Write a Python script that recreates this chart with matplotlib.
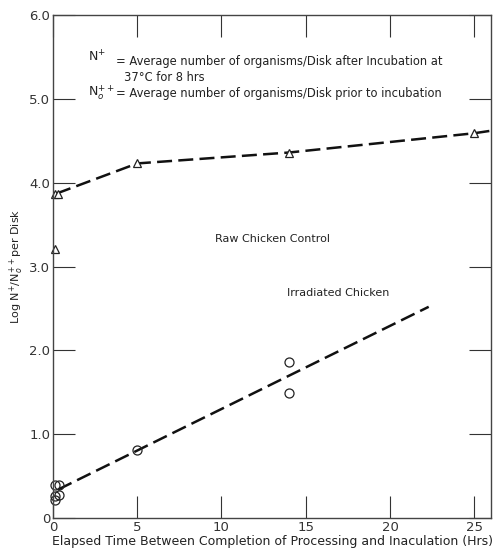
import matplotlib
matplotlib.use("Agg")
import matplotlib.pyplot as plt

# Raw chicken control (triangles)
raw_x = [0.1, 0.3, 0.1, 5, 14, 25]
raw_y = [3.87, 3.87, 3.21, 4.23, 4.36, 4.59]
raw_line_x = [0.2, 5, 14, 25, 26]
raw_line_y = [3.87, 4.23, 4.36, 4.59, 4.62]

# Irradiated chicken (circles)
irr_x = [0.1, 0.35, 0.1, 0.35, 0.1, 5, 14, 14]
irr_y = [0.40, 0.40, 0.26, 0.27, 0.21, 0.81, 1.86, 1.49]
irr_line_x = [0.3, 22.3]
irr_line_y = [0.34, 2.52]

xticks = [0, 5, 10, 15, 20, 25]
xticklabels = ["0", "5", "10", "15", "20", "25"]
yticks = [0, 1, 2, 3, 4, 5, 6]
yticklabels = ["0", "1.0", "2.0", "3.0", "4.0", "5.0", "6.0"]

plt.rcParams['font.family'] = ['DejaVu Sans']
fig = plt.figure(figsize=(4.97, 5.5), dpi=100)
ax = fig.add_axes([0.1066, 0.058, 0.8814, 0.9147])

ax.plot(raw_line_x, raw_line_y, ls=(0, (6, 2.5)), color='#111111', lw=1.8)
ax.plot(raw_x, raw_y, ls='none', marker='^', mfc='white', mec='#222222', ms=6, mew=0.9, clip_on=False)
ax.plot(irr_line_x, irr_line_y, ls=(0, (6, 2.5)), color='#111111', lw=1.8)
ax.plot(irr_x, irr_y, ls='none', marker='o', mfc='none', mec='#222222', ms=6.5, mew=0.9, clip_on=False)

ax.set_xlim(0, 26)
ax.set_ylim(0, 6)
ax.set_xticks(xticks)
ax.set_xticklabels(xticklabels)
ax.set_yticks(yticks)
ax.set_yticklabels(yticklabels)
ax.tick_params(direction='in', length=16, width=0.8, labelsize=9.5, top=True, right=True, colors='#333333')
ax.tick_params(axis='x', pad=2)
ax.tick_params(axis='y', pad=2)
for s in ax.spines.values():
    s.set_color('#444444')
    s.set_linewidth(1.0)

ax.set_xlabel("Elapsed Time Between Completion of Processing and Inaculation (Hrs)", fontsize=9, labelpad=1, color='#222222')
ax.set_ylabel(r"Log N$^{+}$/N$_{o}^{++}$per Disk", fontsize=8, labelpad=2, color='#222222')

ax.text(9.6, 3.33, "Raw Chicken Control", fontsize=8, va='center', color='#222222')
ax.text(13.9, 2.69, "Irradiated Chicken", fontsize=8, va='center', color='#222222')

ax.text(2.1, 5.5, r"N$^{+}$", fontsize=9, va='center', color='#222222')
ax.text(3.75, 5.45, "= Average number of organisms/Disk after Incubation at", fontsize=8.3, va='center', color='#222222')
ax.text(4.2, 5.26, "37°C for 8 hrs", fontsize=8.3, va='center', color='#222222')
ax.text(2.1, 5.07, r"N$_{o}^{++}$", fontsize=9, va='center', color='#222222')
ax.text(3.75, 5.06, "= Average number of organisms/Disk prior to incubation", fontsize=8.3, va='center', color='#222222')

fig.savefig("out.png", dpi=100)
